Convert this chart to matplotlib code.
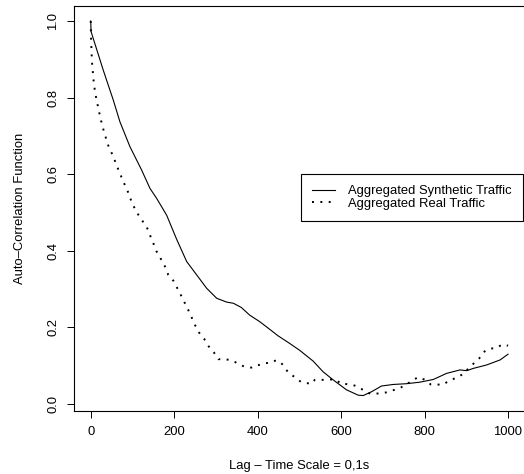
import matplotlib

matplotlib.use("Agg")
import matplotlib.pyplot as plt

plt.rcParams["font.family"] = ["Liberation Sans", "DejaVu Sans"]

# lag (in 0.1 s units) and auto-correlation values
synthetic_lag = [0, 1, 30, 54, 70, 94, 122, 142, 158, 182, 206, 230, 254, 278, 302,
                 326, 342, 361, 381, 405, 429, 449, 477, 501, 533, 557, 581, 613,
                 641, 653, 673, 697, 725, 757, 789, 821, 853, 885, 901, 917, 949,
                 981, 1000]
synthetic_acf = [1.0, 0.972, 0.872, 0.794, 0.737, 0.672, 0.611, 0.563, 0.537, 0.493,
                 0.430, 0.372, 0.337, 0.302, 0.276, 0.266, 0.263, 0.252, 0.232, 0.215,
                 0.195, 0.178, 0.158, 0.140, 0.112, 0.084, 0.063, 0.037, 0.023, 0.022,
                 0.032, 0.047, 0.051, 0.053, 0.057, 0.064, 0.080, 0.089, 0.087, 0.093,
                 0.102, 0.115, 0.130]

real_lag = [0, 1, 2, 3, 5, 7, 10, 14, 19, 23, 29, 38, 43, 50, 58, 68, 81, 90, 98, 107,
            118, 134, 142, 150, 158, 168, 178, 186, 198, 214, 224, 234, 242, 250, 260,
            272, 283, 295, 306, 320, 333, 345, 356, 365, 374, 385, 393, 404, 413, 423,
            432, 442, 449, 456, 463, 473, 489, 497, 505, 517, 528, 537, 548, 561, 575,
            588, 601, 613, 623, 633, 645, 657, 667, 679, 691, 707, 719, 731, 743, 755,
            773, 785, 799, 815, 829, 843, 855, 867, 879, 891, 911, 931, 941, 949, 959,
            969, 981, 991, 1000]
real_acf = [1.0, 0.95, 0.92, 0.894, 0.869, 0.844, 0.818, 0.794, 0.769, 0.748, 0.722,
            0.689, 0.672, 0.656, 0.635, 0.607, 0.574, 0.552, 0.528, 0.507, 0.487, 0.463,
            0.441, 0.420, 0.398, 0.379, 0.359, 0.337, 0.322, 0.289, 0.267, 0.245, 0.226,
            0.206, 0.186, 0.170, 0.150, 0.135, 0.117, 0.117, 0.115, 0.110, 0.104, 0.099,
            0.097, 0.095, 0.100, 0.102, 0.106, 0.107, 0.108, 0.113, 0.113, 0.108, 0.098,
            0.083, 0.070, 0.063, 0.057, 0.055, 0.052, 0.063, 0.063, 0.063, 0.064, 0.063,
            0.052, 0.052, 0.050, 0.048, 0.041, 0.035, 0.028, 0.026, 0.028, 0.030, 0.034,
            0.038, 0.043, 0.050, 0.063, 0.070, 0.064, 0.051, 0.051, 0.050, 0.058, 0.064,
            0.071, 0.077, 0.099, 0.119, 0.135, 0.141, 0.145, 0.145, 0.152, 0.156, 0.152]

x_ticks = [0, 200, 400, 600, 800, 1000]
y_ticks = [0.0, 0.2, 0.4, 0.6, 0.8, 1.0]

W, H = 524, 474
fs = 9.4  # ~13 px at 100 dpi

fig = plt.figure(figsize=(W / 100, H / 100), dpi=100)
ax = fig.add_axes([74 / W, 63 / H, 450.7 / W, 405 / H])

ax.plot(synthetic_lag, synthetic_acf, color="black", lw=0.8,
        label="Aggregated Synthetic Traffic")
ax.plot(real_lag, real_acf, color="black", lw=1.4, ls=(0, (1, 3.3)),
        label="Aggregated Real Traffic")

ax.set_xlim(-40, 1040)
ax.set_ylim(-0.0183, 1.0392)
ax.set_xticks(x_ticks)
ax.set_xticklabels([str(t) for t in x_ticks])
ax.set_yticks(y_ticks)
ax.set_yticklabels([f"{t:.1f}" for t in y_ticks], rotation=90, va="center")
ax.tick_params(direction="out", length=5, width=0.7, labelsize=fs, pad=5.5)

for spine in ax.spines.values():
    spine.set_linewidth(0.8)
# the right side of the frame falls just outside the picture
ax.spines["right"].set_visible(False)

ax.set_xlabel("Lag \u2013 Time Scale = 0,1s", fontsize=fs)
ax.xaxis.set_label_coords(0.5, -(466 - 411) / 405, transform=ax.transAxes)
ax.xaxis.label.set_va("center")
ax.set_ylabel("Auto\u2013Correlation Function", fontsize=fs)
ax.yaxis.set_label_coords(-(74 - 20) / 450.7, 0.5, transform=ax.transAxes)
ax.yaxis.label.set_va("center")

leg = ax.legend(loc="upper left", bbox_to_anchor=(301 / W, 1 - 174 / H),
                bbox_transform=fig.transFigure, borderaxespad=0, fontsize=fs,
                fancybox=False, framealpha=1, edgecolor="black",
                handlelength=1.75, handletextpad=1.0, labelspacing=0.05,
                borderpad=0.85)
leg.get_frame().set_linewidth(0.8)

fig.savefig("out.png", dpi=100)
